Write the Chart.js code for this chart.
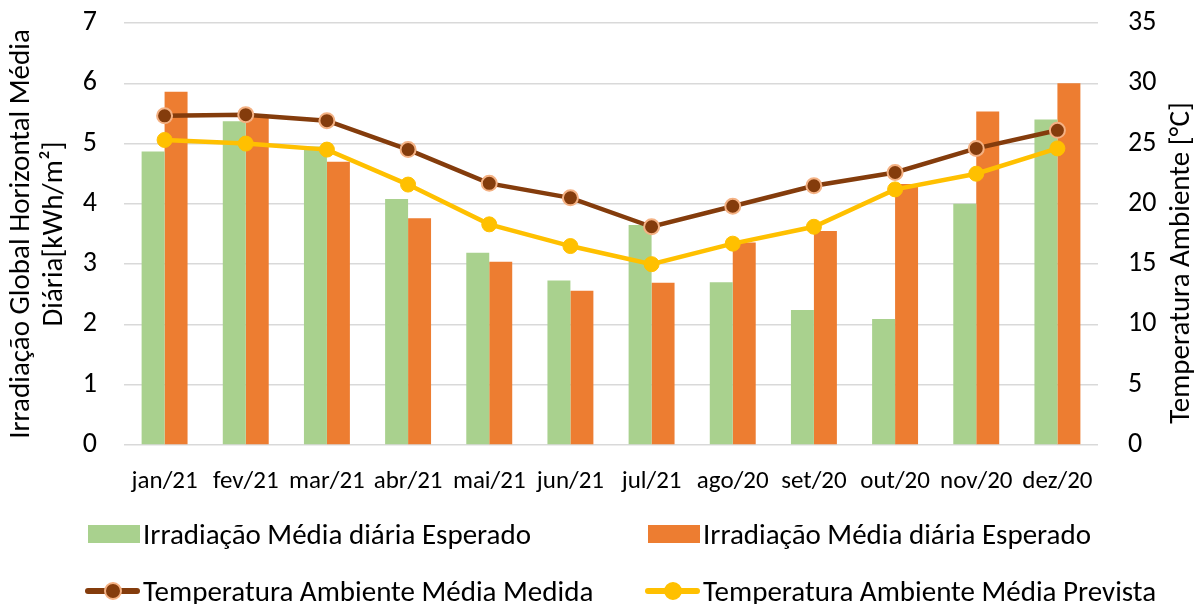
<!DOCTYPE html>
<html>
<head>
<meta charset="utf-8">
<script src="https://cdn.jsdelivr.net/npm/chart.js@4.4.0/dist/chart.umd.min.js"></script>
<style>
    body { margin: 0; background: #fff; }
    #wrap { position: relative; width: 1203px; height: 604px; }
    #legend { position: absolute; left: 0; top: 0; width: 1203px; height: 604px; pointer-events: none;
        font-family: Carlito, Calibri, "Noto Sans", sans-serif; font-size: 29px; color: #000; }
    .item { position: absolute; display: flex; align-items: center; white-space: nowrap; height: 36px; }
    .box { width: 52px; height: 18px; margin-right: 3px; }
    .ln { position: relative; width: 55px; height: 22px; margin-right: 3px; }
    .ln .bar { position: absolute; left: 0; right: 0; top: 8px; height: 6px; border-radius: 3px; }
    .ln .dot { position: absolute; left: 19px; top: 2px; width: 14px; height: 14px; border-radius: 50%; }
</style>
</head>
<body>
<div id="wrap">
    <canvas id="chart"></canvas>
    <div id="legend"></div>
</div>
<script>
const meses = ['jan/21', 'fev/21', 'mar/21', 'abr/21', 'mai/21', 'jun/21', 'jul/21', 'ago/20', 'set/20', 'out/20', 'nov/20', 'dez/20'];
const irradEsperadoVerde = [4.87, 5.37, 4.95, 4.08, 3.19, 2.73, 3.65, 2.70, 2.24, 2.09, 4.00, 5.40];
const irradEsperadoLaranja = [5.86, 5.45, 4.70, 3.76, 3.04, 2.56, 2.69, 3.36, 3.55, 4.33, 5.53, 6.00];
const tempMedida = [27.3, 27.4, 26.9, 24.5, 21.7, 20.5, 18.1, 19.8, 21.5, 22.6, 24.6, 26.1];
const tempPrevista = [25.3, 25.0, 24.5, 21.6, 18.3, 16.5, 15.0, 16.7, 18.1, 21.2, 22.5, 24.6];
const ticksIrrad = [0, 1, 2, 3, 4, 5, 6, 7];
const ticksTemp = [0, 5, 10, 15, 20, 25, 30, 35];

const FONT = 'Carlito, Calibri, "Noto Sans", sans-serif';
const VERDE = '#a9d18e', LARANJA = '#ed7d31', MARROM = '#843c0c', AMARELO = '#ffc000';
const TITULO_DIREITA = 'Temperatura Ambiente [°C]';

// larguras fixas das caixas dos eixos (área do gráfico: x 124..1098, y 23..445)
function fixaLargura(w) {
    return s => { s.width = w; s.paddingTop = 0; s.paddingBottom = 0; };
}

// título do eixo direito lido de baixo para cima, como no Excel
const tituloDireita = {
    id: 'tituloDireita',
    afterDraw(chart) {
        const c = chart.ctx;
        const s = chart.scales.yT;
        c.save();
        c.translate(chart.width - 21, s.top + (s.bottom - s.top) / 2 + 29);
        c.rotate(-Math.PI / 2);
        c.font = '29px ' + FONT;
        c.fillStyle = '#000';
        c.textAlign = 'center';
        c.textBaseline = 'middle';
        c.fillText(TITULO_DIREITA, 0, 0);
        c.restore();
    }
};

document.addEventListener('DOMContentLoaded', function () {
    const ctx = document.getElementById('chart');
    ctx.parentNode.style.height = '604px';

    new Chart(ctx, {
        data: {
            labels: meses,
            datasets: [
                {
                    type: 'line', label: 'Temperatura Ambiente Média Medida', data: tempMedida, yAxisID: 'yT', order: 1,
                    borderColor: MARROM, borderWidth: 4.5, pointRadius: 7.5, pointBackgroundColor: MARROM,
                    pointBorderColor: '#f4b183', pointBorderWidth: 2, tension: 0
                },
                {
                    type: 'line', label: 'Temperatura Ambiente Média Prevista', data: tempPrevista, yAxisID: 'yT', order: 2,
                    borderColor: AMARELO, borderWidth: 4.5, pointRadius: 7.5, pointBackgroundColor: AMARELO,
                    pointBorderColor: AMARELO, pointBorderWidth: 1, tension: 0
                },
                {
                    type: 'bar', label: 'Irradiação Média diária Esperado', data: irradEsperadoVerde, yAxisID: 'yI', order: 3,
                    backgroundColor: VERDE, categoryPercentage: 0.566, barPercentage: 1
                },
                {
                    type: 'bar', label: 'Irradiação Média diária Esperado', data: irradEsperadoLaranja, yAxisID: 'yI', order: 4,
                    backgroundColor: LARANJA, categoryPercentage: 0.566, barPercentage: 1
                }
            ]
        },
        options: {
            responsive: true,
            maintainAspectRatio: false,
            animation: false,
            layout: { padding: { top: 23, left: 0, right: 0, bottom: 95 } },
            plugins: { legend: { display: false }, tooltip: { enabled: false } },
            scales: {
                x: {
                    grid: { display: false }, border: { display: false },
                    ticks: { color: '#000', font: { family: FONT, size: 25 }, maxRotation: 0, autoSkip: false, padding: 14 },
                    afterFit: s => { s.height = 64; s.paddingLeft = 0; s.paddingRight = 0; }
                },
                yI: {
                    position: 'left', min: 0, max: 7,
                    afterBuildTicks: s => { s.ticks = ticksIrrad.map(v => ({ value: v })); },
                    afterFit: fixaLargura(124),
                    grid: { color: '#d9d9d9', lineWidth: 1.5, drawTicks: false }, border: { display: false },
                    ticks: { color: '#000', font: { family: FONT, size: 28 }, padding: 27 },
                    title: {
                        display: true, text: ['Irradiação Global Horizontal Média', 'Diária[kWh/m²]'],
                        color: '#000', font: { family: FONT, size: 29, lineHeight: 1.15 }, padding: { top: 5, bottom: 0 }
                    }
                },
                yT: {
                    position: 'right', min: 0, max: 35,
                    afterBuildTicks: s => { s.ticks = ticksTemp.map(v => ({ value: v })); },
                    afterFit: fixaLargura(105),
                    grid: { display: false, drawTicks: false }, border: { display: false },
                    ticks: { color: '#000', font: { family: FONT, size: 28 }, padding: 30 },
                    title: { display: false }
                }
            }
        },
        plugins: [tituloDireita]
    });

    buildLegend();
});

function buildLegend() {
    const leg = document.getElementById('legend');
    const itens = [
        { x: 88, y: 534, tipo: 'box', cor: VERDE, texto: 'Irradiação Média diária Esperado' },
        { x: 648, y: 534, tipo: 'box', cor: LARANJA, texto: 'Irradiação Média diária Esperado' },
        { x: 85, y: 591, tipo: 'ln', cor: MARROM, borda: '#f4b183', texto: 'Temperatura Ambiente Média Medida' },
        { x: 645, y: 591, tipo: 'ln', cor: AMARELO, borda: AMARELO, texto: 'Temperatura Ambiente Média Prevista' }
    ];
    itens.forEach(it => {
        const d = document.createElement('div');
        d.className = 'item';
        d.style.left = it.x + 'px';
        d.style.top = (it.y - 18) + 'px';
        let marca;
        if (it.tipo === 'box') {
            marca = `<span class="box" style="background:${it.cor}"></span>`;
        } else {
            marca = `<span class="ln"><span class="bar" style="background:${it.cor}"></span>` +
                `<span class="dot" style="background:${it.cor};border:2px solid ${it.borda}"></span></span>`;
        }
        d.innerHTML = marca + `<span>${it.texto}</span>`;
        leg.appendChild(d);
    });
}
</script>
</body>
</html>
